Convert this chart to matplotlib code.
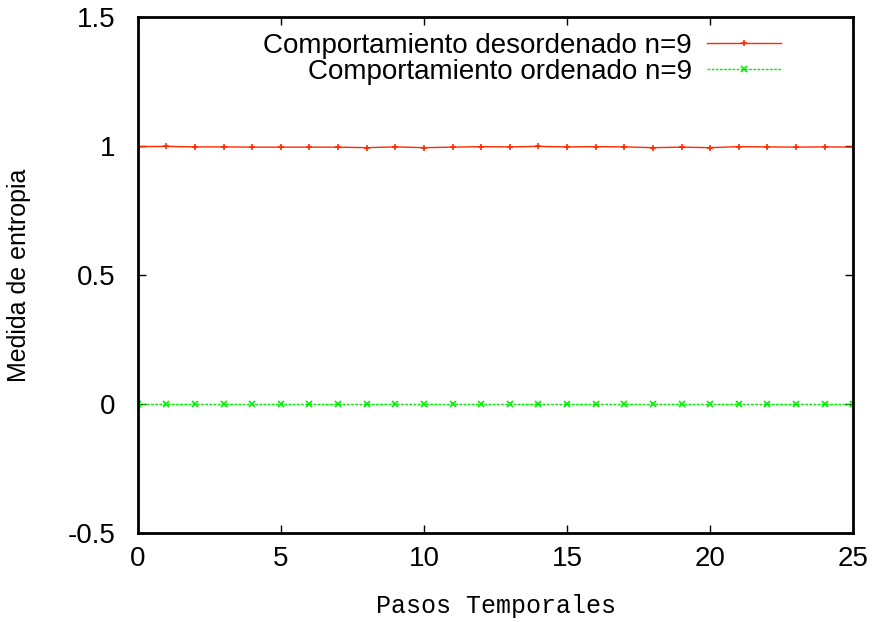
import matplotlib
matplotlib.use("Agg")
import matplotlib.pyplot as plt
import numpy as np

# pasos temporales
steps = list(range(26))

# entropia, comportamiento desordenado n=9
disordered = [0.997, 0.998, 0.996, 0.996, 0.995, 0.995, 0.995, 0.995, 0.993, 0.996,
              0.993, 0.995, 0.997, 0.996, 0.998, 0.996, 0.997, 0.996, 0.993, 0.995,
              0.993, 0.997, 0.996, 0.995, 0.996, 0.995]

# entropia, comportamiento ordenado n=9
ordered = [0.0] * 26

labels = ["Comportamiento desordenado n=9", "Comportamiento ordenado n=9"]

plt.rcParams["font.family"] = ["Liberation Sans", "DejaVu Sans"]

fig = plt.figure(figsize=(8.77, 6.22), dpi=100)
ax = fig.add_axes([0.157, 0.143, 0.816, 0.830])

ax.plot(steps, disordered, color="#ff2a00", lw=1.0, marker="+", ms=5, mew=1.2,
        label=labels[0])
ax.plot(steps, ordered, color="#00ee00", lw=1.0, ls=(0, (2, 1)), marker="x", ms=4,
        mew=1.2, label=labels[1])

ax.set_xlim(0, 25)
ax.set_ylim(-0.5, 1.5)
ax.set_xticks([0, 5, 10, 15, 20, 25])
ax.set_yticks([-0.5, 0, 0.5, 1, 1.5])
ax.set_yticklabels(["-0.5", "0", "0.5", "1", "1.5"])

ax.tick_params(direction="in", length=6, width=1, top=True, right=True,
               labelsize=20)
ax.tick_params(axis="y", pad=16)
ax.tick_params(axis="x", pad=9)
for s in ax.spines.values():
    s.set_linewidth(2)

ax.set_xlabel("Pasos Temporales", family=["Liberation Mono", "DejaVu Sans Mono"],
              fontsize=18, labelpad=16)
ax.set_ylabel("Medida de entropia", fontsize=18, labelpad=26)

ax.legend(loc="upper right", frameon=False, markerfirst=False, fontsize=20,
          handlelength=2.66, handletextpad=0.54, labelspacing=0.0,
          borderaxespad=0.0, bbox_to_anchor=(0.914, 0.991))

fig.savefig("out.png", dpi=100)
